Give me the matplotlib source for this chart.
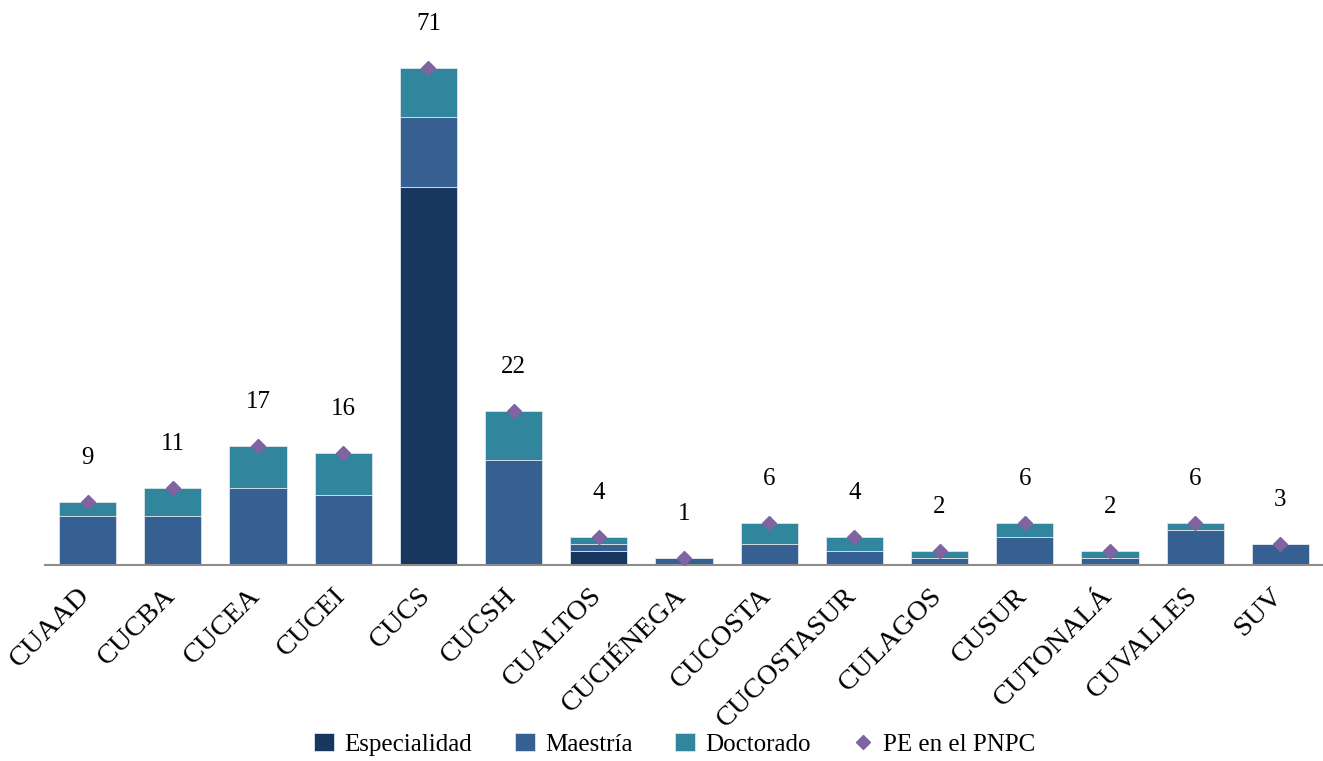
import matplotlib.pyplot as plt
import matplotlib.transforms as mtransforms
import numpy as np

# Programas por centro universitario
centros = ["CUAAD", "CUCBA", "CUCEA", "CUCEI", "CUCS", "CUCSH", "CUALTOS",
           "CUCIÉNEGA", "CUCOSTA", "CUCOSTASUR", "CULAGOS", "CUSUR",
           "CUTONALÁ", "CUVALLES", "SUV"]
especialidad = [0, 0, 0, 0, 54, 0, 2, 0, 0, 0, 0, 0, 0, 0, 0]
maestria = [7, 7, 11, 10, 10, 15, 1, 1, 3, 2, 1, 4, 1, 5, 3]
doctorado = [2, 4, 6, 6, 7, 7, 1, 0, 3, 2, 1, 2, 1, 1, 0]
pe_pnpc = [9, 11, 17, 16, 71, 22, 4, 1, 6, 4, 2, 6, 2, 6, 3]

plt.rcParams['font.family'] = ['Liberation Serif', 'DejaVu Serif']

c_esp = "#17375E"
c_mae = "#376092"
c_doc = "#31859C"
c_pe = "#8064A2"

fig = plt.figure(figsize=(13.23, 7.61), dpi=100)
ax = fig.add_axes([0.034, 0.2576, 0.966, 0.7358])

x = np.arange(len(centros))
esp = np.array(especialidad)
mae = np.array(maestria)
doc = np.array(doctorado)
w = 0.67

b1 = ax.bar(x, esp, w, color=c_esp, edgecolor="#dde3ea", linewidth=0.6, label="Especialidad")
b2 = ax.bar(x, mae, w, bottom=esp, color=c_mae, edgecolor="#dde3ea", linewidth=0.6, label="Maestría")
b3 = ax.bar(x, doc, w, bottom=esp + mae, color=c_doc, edgecolor="#dde3ea", linewidth=0.6, label="Doctorado")
pts, = ax.plot(x, pe_pnpc, linestyle="none", marker="D", markersize=7,
               color=c_pe, label="PE en el PNPC", zorder=5)

for xi, v in zip(x, pe_pnpc):
    ax.annotate(str(v), (xi, v), xytext=(0, 32), textcoords="offset points",
                ha="center", va="center", fontsize=18)

ax.set_xlim(-0.5, 14.5)
ax.set_ylim(0, 80)
ax.set_xticks(x)
ax.set_xticklabels(centros, rotation=45, ha="right", va="top",
                   rotation_mode="anchor", fontsize=20.5)
ax.tick_params(axis="x", length=0, pad=13)
# desplazar un poco las etiquetas a la izquierda
shift = mtransforms.ScaledTranslation(-10 / 100, 0, fig.dpi_scale_trans)
for lbl in ax.get_xticklabels():
    lbl.set_transform(lbl.get_transform() + shift)
ax.set_yticks([])
for s in ["top", "right", "left"]:
    ax.spines[s].set_visible(False)
ax.spines["bottom"].set_color("#8c8c8c")
ax.spines["bottom"].set_linewidth(1.5)

fig.legend(handles=[b1, b2, b3, pts], loc="center", bbox_to_anchor=(0.51, 0.022),
           ncol=4, frameon=False, fontsize=18, handlelength=0.8,
           handletextpad=0.4, columnspacing=1.7)

fig.savefig("out.png", dpi=100)
